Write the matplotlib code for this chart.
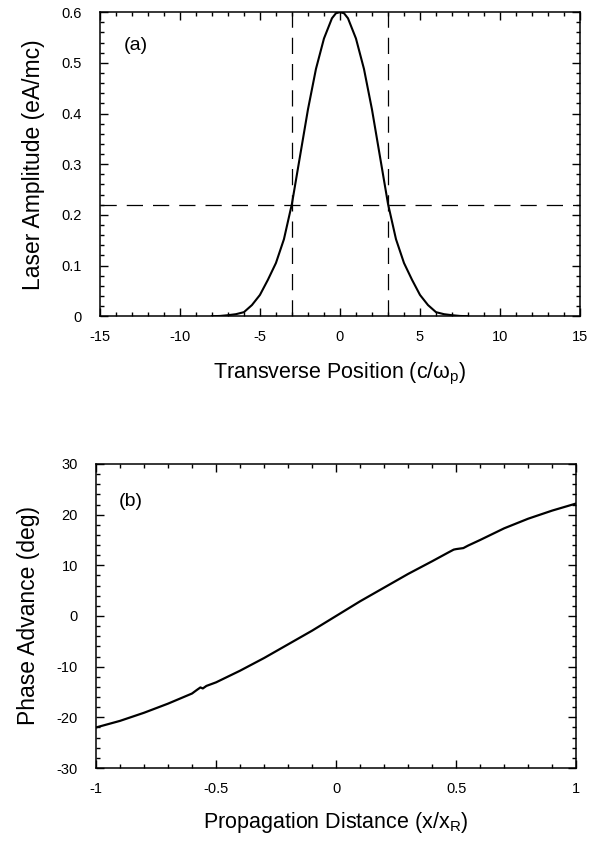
import numpy as np
import matplotlib.pyplot as plt
from matplotlib.ticker import MultipleLocator

plt.rcParams['font.family'] = ['Liberation Sans', 'DejaVu Sans']
plt.rcParams['axes.unicode_minus'] = False

# (a) transverse laser profile
pos = [-8, -7.5, -7, -6.5, -6, -5.5, -5, -4.5, -4, -3.5, -3, -2.5, -2, -1.5, -1, -0.5, -0.25,
       0, 0.25, 0.5, 1, 1.5, 2, 2.5, 3, 3.5, 4, 4.5, 5, 5.5, 6, 6.5, 7, 7.5, 8]
amp_half = [0.600, 0.598, 0.588, 0.548, 0.488, 0.408, 0.315, 0.222, 0.152, 0.105,
            0.072, 0.042, 0.022, 0.008, 0.004, 0.002, 0.0005, 0.0]
amp = amp_half[::-1][:-1] + amp_half
spot_x = [-3, 3]
spot_y = 0.22

# (b) phase advance along propagation
dist = [-1, -0.9, -0.8, -0.7, -0.6, -0.58, -0.565, -0.555, -0.54, -0.5, -0.4, -0.3, -0.2, -0.1,
        0, 0.1, 0.2, 0.3, 0.4, 0.47, 0.49, 0.5, 0.53, 0.55, 0.6, 0.7, 0.8, 0.9, 1]
phase = [-22.0, -20.7, -19.1, -17.3, -15.3, -14.6, -14.1, -14.3, -13.8, -13.1, -10.8, -8.3, -5.6, -2.9,
         0, 2.9, 5.6, 8.3, 10.8, 12.6, 13.1, 13.2, 13.4, 13.9, 15.0, 17.3, 19.2, 20.8, 22.2]

fig = plt.figure(figsize=(5.98, 8.41), dpi=100)
ax1 = fig.add_axes([0.167, 0.624, 0.803, 0.3615])
ax2 = fig.add_axes([0.1605, 0.0868, 0.803, 0.3615])

ax1.plot(pos, amp, color='black', lw=1.5)
for xv in spot_x:
    ax1.axvline(xv, color='black', lw=0.9, dashes=(13, 8))
ax1.axhline(spot_y, color='black', lw=0.9, dashes=(13, 8))
ax1.set_xlim(-15, 15)
ax1.set_ylim(0, 0.6)
ax1.xaxis.set_major_locator(MultipleLocator(5))
ax1.xaxis.set_minor_locator(MultipleLocator(1))
ax1.yaxis.set_minor_locator(MultipleLocator(0.02))
ax1.set_yticks([0, 0.1, 0.2, 0.3, 0.4, 0.5, 0.6])
ax1.set_yticklabels(['0', '0.1', '0.2', '0.3', '0.4', '0.5', '0.6'])
ax1.set_xlabel('Transverse Position (c/$\\mathregular{\\omega_p}$)', fontsize=15.5, labelpad=12)
ax1.set_ylabel('Laser Amplitude (eA/mc)', fontsize=16.5, labelpad=12)
ax1.text(0.05, 0.89, '(a)', transform=ax1.transAxes, fontsize=14, va='center')

ax2.plot(dist, phase, color='black', lw=1.6)
ax2.set_xlim(-1, 1)
ax2.set_ylim(-30, 30)
ax2.xaxis.set_minor_locator(MultipleLocator(0.1))
ax2.yaxis.set_major_locator(MultipleLocator(10))
ax2.yaxis.set_minor_locator(MultipleLocator(2))
ax2.set_xticks([-1, -0.5, 0, 0.5, 1])
ax2.set_xticklabels(['-1', '-0.5', '0', '0.5', '1'])
ax2.set_xlabel('Propagation Distance (x/x$\\mathregular{_R}$)', fontsize=15.5, labelpad=10)
ax2.set_ylabel('Phase Advance (deg)', fontsize=16.5, labelpad=12)
ax2.text(0.048, 0.875, '(b)', transform=ax2.transAxes, fontsize=14, va='center')

for ax in (ax1, ax2):
    ax.tick_params(which='both', direction='in', top=True, right=True, labelsize=10.5,
                   width=1)
    ax.tick_params(axis='x', pad=10)
    ax.tick_params(axis='y', pad=13)
    ax.tick_params(which='major', length=6)
    ax.tick_params(which='minor', length=3)
    for s in ax.spines.values():
        s.set_linewidth(1.1)

fig.savefig('out.png', dpi=100)
